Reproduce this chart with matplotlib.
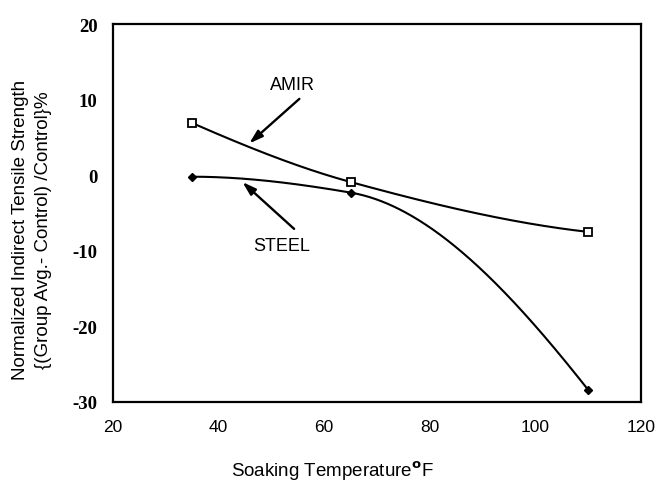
import numpy as np
import matplotlib
matplotlib.use("Agg")
import matplotlib.pyplot as plt

# ---- data ----
temps = [35, 65, 110]
amir = [6.9, -0.9, -7.5]
steel = [-0.2, -2.3, -28.4]
xticks = [20, 40, 60, 80, 100, 120]
yticks = [-30, -20, -10, 0, 10, 20]


def pchip_curve(x, y, n=200):
    """Smooth monotone cubic path through the points (for drawing only)."""
    x = np.asarray(x, float)
    y = np.asarray(y, float)
    h = np.diff(x)
    d = np.diff(y) / h
    m = np.zeros_like(x)
    for k in range(1, len(x) - 1):
        if d[k - 1] * d[k] > 0:
            w1 = 2 * h[k] + h[k - 1]
            w2 = h[k] + 2 * h[k - 1]
            m[k] = (w1 + w2) / (w1 / d[k - 1] + w2 / d[k])

    def end(h0, h1, d0, d1):
        s = ((2 * h0 + h1) * d0 - h0 * d1) / (h0 + h1)
        if np.sign(s) != np.sign(d0):
            s = 0
        elif np.sign(d0) != np.sign(d1) and abs(s) > abs(3 * d0):
            s = 3 * d0
        return s
    m[0] = end(h[0], h[1], d[0], d[1])
    m[-1] = end(h[-1], h[-2], d[-1], d[-2])
    xs, ys = [], []
    for k in range(len(x) - 1):
        t = np.linspace(0, 1, n)
        h00 = 2 * t**3 - 3 * t**2 + 1
        h10 = t**3 - 2 * t**2 + t
        h01 = -2 * t**3 + 3 * t**2
        h11 = t**3 - t**2
        xs.append(x[k] + t * h[k])
        ys.append(h00 * y[k] + h10 * h[k] * m[k] + h01 * y[k + 1] + h11 * h[k] * m[k + 1])
    return np.concatenate(xs), np.concatenate(ys)


fig = plt.figure(figsize=(6.55, 4.85), dpi=100)
ax = fig.add_axes([113 / 655, 82 / 485, 528 / 655, 378 / 485])

ax.set_xlim(20, 120)
ax.set_ylim(-30, 20)

cx, cy = pchip_curve(temps, amir)
ax.plot(cx, cy, color="black", lw=1.5)
ax.plot(temps, amir, linestyle="none", marker="s", ms=6, mfc="white", mec="black", mew=1.3)

cx, cy = pchip_curve(temps, steel)
ax.plot(cx, cy, color="black", lw=1.5)
ax.plot(temps, steel, linestyle="none", marker="D", ms=4.5, mfc="black", mec="black")

ax.set_xticks(xticks)
ax.set_yticks(yticks)
ax.set_xticklabels([str(v) for v in xticks], fontfamily="Liberation Sans", fontsize=12.5)
ax.set_yticklabels([str(v) for v in yticks], fontfamily="Liberation Serif",
                   fontweight="bold", fontsize=13.5)
ax.tick_params(axis="both", length=0)
ax.tick_params(axis="x", pad=12)
ax.tick_params(axis="y", pad=11)
for s in ax.spines.values():
    s.set_linewidth(1.6)

arrow = dict(arrowstyle="-|>,head_length=0.8,head_width=0.25", color="black", lw=1.7,
             shrinkA=0, shrinkB=0)
ax.text(54.0, 12.0, "AMIR", ha="center", va="center", fontfamily="Liberation Sans",
        fontsize=13)
ax.annotate("", xy=(45.8, 4.2), xytext=(55.3, 10.1), arrowprops=arrow)
ax.text(51.9, -9.3, "STEEL", ha="center", va="center", fontfamily="Liberation Sans",
        fontsize=13)
ax.annotate("", xy=(44.5, -0.9), xytext=(54.3, -7.1), arrowprops=arrow)

fig.text(332 / 655, 1 - 471 / 485, "Soaking Temperature$^{\\mathbf{o}}$F", ha="center",
         va="center", fontfamily="Liberation Sans", fontsize=13.5)
fig.text(32 / 655, 1 - 230 / 485,
         "Normalized Indirect Tensile Strength\n{(Group Avg.- Control) /Control}%",
         ha="center", va="center", rotation=90, fontfamily="Liberation Sans",
         fontsize=13.5, linespacing=1.45)

fig.savefig("out.png", dpi=100)
